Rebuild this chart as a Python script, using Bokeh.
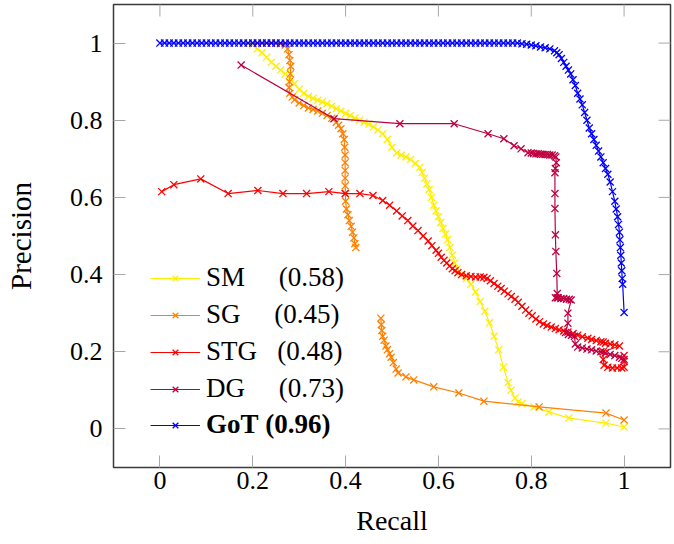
import math
from bokeh.plotting import figure
from bokeh.models import FixedTicker, Legend, LegendItem, Range1d
from bokeh.embed import file_html
from bokeh.resources import INLINE

nan = math.nan

# ---------------- data ----------------
x_ticks = [0, 0.2, 0.4, 0.6, 0.8, 1]
x_tick_labels = ["0", "0.2", "0.4", "0.6", "0.8", "1"]
y_ticks = [0, 0.2, 0.4, 0.6, 0.8, 1]
y_tick_labels = ["0", "0.2", "0.4", "0.6", "0.8", "1"]

series_names = ["SM", "SG", "STG", "DG", "GoT"]
series_scores = ["0.58", "0.45", "0.48", "0.73", "0.96"]

sm_recall = [0.18, 0.19, 0.20, 0.21, 0.22, 0.23, 0.24, 0.25, 0.26, 0.27, 0.28, 0.29, 0.30,
             0.31, 0.32, 0.33, 0.34, 0.35, 0.36, 0.37, 0.38, 0.39, 0.40, 0.41, 0.42, 0.43,
             0.44, 0.45, 0.46, 0.47, 0.48, 0.49, 0.50, 0.51, 0.52, 0.53, 0.54, 0.55, 0.56,
             0.565, 0.57, 0.575, 0.58, 0.585, 0.59, 0.595, 0.60, 0.605, 0.61, 0.615, 0.62,
             0.625, 0.63, 0.635, 0.64, 0.65, 0.66, 0.67, 0.68, 0.69, 0.70, 0.71, 0.72, 0.73,
             0.74, 0.75, 0.756, 0.765, 0.772, 0.78, 0.806, 0.838, 0.881, 0.961, 1.0]
sm_precision = [1.0, 1.0, 0.995, 0.985, 0.975, 0.963, 0.95, 0.94, 0.93, 0.92, 0.91, 0.895, 0.88,
                0.87, 0.862, 0.857, 0.852, 0.848, 0.843, 0.836, 0.83, 0.824, 0.818, 0.812, 0.806, 0.80,
                0.795, 0.79, 0.783, 0.775, 0.765, 0.75, 0.73, 0.715, 0.71, 0.705, 0.698, 0.688, 0.678,
                0.665, 0.65, 0.635, 0.62, 0.60, 0.58, 0.565, 0.55, 0.535, 0.52, 0.505, 0.49,
                0.47, 0.45, 0.43, 0.415, 0.40, 0.39, 0.375, 0.355, 0.33, 0.305, 0.275, 0.24, 0.205,
                0.16, 0.12, 0.10, 0.08, 0.07, 0.066, 0.057, 0.044, 0.028, 0.015, 0.005]

sg_recall = [0.20, 0.21, 0.22, 0.23, 0.24, 0.25, 0.26, 0.27, 0.275, 0.278, 0.28, 0.282, 0.281,
             0.279, 0.278, 0.28, 0.285, 0.29, 0.30, 0.31, 0.32, 0.33, 0.34, 0.35, 0.36, 0.37,
             0.38, 0.385, 0.39, 0.394, 0.397, 0.398, 0.399, 0.399, 0.399, 0.399, 0.399, 0.40,
             0.40, 0.402, 0.405, 0.408, 0.412, 0.415, 0.418, 0.42, 0.422,
             nan,
             0.476, 0.477, 0.478, 0.48, 0.483, 0.487, 0.49, 0.495, 0.498, 0.503, 0.509, 0.513,
             0.53, 0.547, 0.59, 0.644, 0.698, 0.817, 0.961, 1.0]
sg_precision = [1.0, 1.0, 1.0, 1.0, 1.0, 1.0, 0.998, 0.995, 0.985, 0.97, 0.955, 0.94, 0.92,
                0.90, 0.885, 0.87, 0.86, 0.853, 0.845, 0.838, 0.832, 0.828, 0.824, 0.818, 0.812, 0.805,
                0.795, 0.787, 0.778, 0.765, 0.75, 0.73, 0.71, 0.69, 0.67, 0.65, 0.63, 0.61,
                0.59, 0.57, 0.555, 0.54, 0.525, 0.51, 0.495, 0.48, 0.47,
                nan,
                0.287, 0.27, 0.255, 0.24, 0.23, 0.215, 0.205, 0.195, 0.186, 0.172, 0.155, 0.145,
                0.135, 0.127, 0.109, 0.093, 0.072, 0.057, 0.041, 0.023]

stg_recall = [0.004, 0.03, 0.088, 0.147, 0.211, 0.265, 0.316, 0.364, 0.399, 0.431, 0.459,
              0.48, 0.495, 0.51, 0.522, 0.534, 0.545, 0.556, 0.567, 0.578, 0.586, 0.595, 0.60,
              0.606, 0.612, 0.618, 0.624, 0.63, 0.636, 0.642, 0.65, 0.66, 0.67, 0.68, 0.69,
              0.698, 0.705, 0.712, 0.72, 0.728, 0.735, 0.742, 0.75, 0.757, 0.765, 0.772, 0.78,
              0.788, 0.795, 0.802, 0.81, 0.818, 0.826, 0.834, 0.843, 0.852, 0.86, 0.87, 0.879,
              0.89, 0.90, 0.91, 0.922, 0.93, 0.94, 0.95, 0.955, 0.96, 0.97, 0.98, 0.99,
              0.955, 0.955, 0.957, 0.965, 0.975, 0.985, 0.995, 1.0, 1.0, 1.0]
stg_precision = [0.615, 0.633, 0.648, 0.61, 0.618, 0.61, 0.61, 0.615, 0.61, 0.61, 0.605,
                 0.592, 0.58, 0.565, 0.552, 0.54, 0.526, 0.514, 0.50, 0.487, 0.475, 0.463, 0.455,
                 0.445, 0.437, 0.43, 0.422, 0.415, 0.41, 0.405, 0.40, 0.397, 0.395, 0.394, 0.394,
                 0.393, 0.39, 0.384, 0.377, 0.37, 0.364, 0.357, 0.35, 0.343, 0.336, 0.328, 0.318,
                 0.308, 0.30, 0.293, 0.285, 0.278, 0.272, 0.268, 0.264, 0.26, 0.257, 0.254, 0.251,
                 0.247, 0.243, 0.239, 0.235, 0.232, 0.229, 0.226, 0.225, 0.222, 0.22, 0.218, 0.215,
                 0.20, 0.18, 0.165, 0.16, 0.158, 0.158, 0.158, 0.16, 0.175, 0.19]

dg_recall = [0.175, 0.375, 0.517, 0.634, 0.707, 0.741, 0.763, 0.778, 0.793, 0.80, 0.805, 0.81,
             0.815, 0.82, 0.825, 0.83, 0.835, 0.84, 0.845, 0.85, 0.853, 0.854, 0.852, 0.851,
             0.851, 0.851, 0.852, 0.853, 0.855, 0.856, 0.856, 0.852, 0.858, 0.864, 0.87, 0.876,
             0.882, 0.886, 0.879, 0.879, 0.874, 0.88, 0.887, 0.893, 0.895, 0.90, 0.91, 0.92,
             0.93, 0.94, 0.95, 0.96, 0.97, 0.98, 0.99, 0.995, 1.0]
dg_precision = [0.943, 0.804, 0.791, 0.791, 0.765, 0.752, 0.734, 0.726, 0.716, 0.715, 0.714, 0.713,
                0.713, 0.712, 0.712, 0.711, 0.711, 0.71, 0.71, 0.708, 0.705, 0.69, 0.675, 0.664,
                0.61, 0.571, 0.503, 0.46, 0.403, 0.351, 0.34, 0.34, 0.34, 0.338, 0.338, 0.336,
                0.336, 0.334, 0.30, 0.274, 0.25, 0.245, 0.243, 0.24, 0.22, 0.212, 0.21, 0.207,
                0.205, 0.202, 0.20, 0.197, 0.193, 0.19, 0.186, 0.183, 0.18]

got_recall = [0.00, 0.01, 0.02, 0.03, 0.04, 0.05, 0.06, 0.07, 0.08, 0.09, 0.10, 0.11, 0.12,
              0.13, 0.14, 0.15, 0.16, 0.17, 0.18, 0.19, 0.20, 0.21, 0.22, 0.23, 0.24, 0.25,
              0.26, 0.27, 0.28, 0.29, 0.30, 0.31, 0.32, 0.33, 0.34, 0.35, 0.36, 0.37, 0.38,
              0.39, 0.40, 0.41, 0.42, 0.43, 0.44, 0.45, 0.46, 0.47, 0.48, 0.49, 0.50, 0.51,
              0.52, 0.53, 0.54, 0.55, 0.56, 0.57, 0.58, 0.59, 0.60, 0.61, 0.62, 0.63, 0.64,
              0.65, 0.66, 0.67, 0.68, 0.69, 0.70, 0.71, 0.72, 0.73, 0.74, 0.75, 0.76, 0.77,
              0.78, 0.79, 0.80, 0.81, 0.82, 0.83, 0.84, 0.85, 0.855, 0.86, 0.865, 0.87, 0.875,
              0.88, 0.885, 0.89, 0.895, 0.90, 0.905, 0.91, 0.915, 0.92, 0.925, 0.93, 0.935,
              0.94, 0.945, 0.95, 0.955, 0.96, 0.965, 0.97, 0.975, 0.98, 0.983, 0.986, 0.988,
              0.99, 0.991, 0.992, 0.993, 0.994, 0.995, 0.996, 0.997, 1.0]
got_precision = [1.0, 1.0, 1.0, 1.0, 1.0, 1.0, 1.0, 1.0, 1.0, 1.0, 1.0, 1.0, 1.0,
                 1.0, 1.0, 1.0, 1.0, 1.0, 1.0, 1.0, 1.0, 1.0, 1.0, 1.0, 1.0, 1.0,
                 1.0, 1.0, 1.0, 1.0, 1.0, 1.0, 1.0, 1.0, 1.0, 1.0, 1.0, 1.0, 1.0,
                 1.0, 1.0, 1.0, 1.0, 1.0, 1.0, 1.0, 1.0, 1.0, 1.0, 1.0, 1.0, 1.0,
                 1.0, 1.0, 1.0, 1.0, 1.0, 1.0, 1.0, 1.0, 1.0, 1.0, 1.0, 1.0, 1.0,
                 1.0, 1.0, 1.0, 1.0, 1.0, 1.0, 1.0, 1.0, 1.0, 1.0, 1.0, 1.0, 1.0,
                 0.998, 0.997, 0.995, 0.993, 0.99, 0.988, 0.985, 0.98, 0.975, 0.97, 0.96, 0.95, 0.94,
                 0.93, 0.92, 0.905, 0.89, 0.87, 0.855, 0.84, 0.82, 0.80, 0.78, 0.765, 0.75,
                 0.735, 0.72, 0.705, 0.69, 0.675, 0.66, 0.64, 0.615, 0.59, 0.57, 0.55, 0.53,
                 0.51, 0.49, 0.47, 0.45, 0.43, 0.41, 0.39, 0.375, 0.302]

colors = ["#FFEE00", "#FF8000", "#FF0000", "#BF0040", "#0000FF"]

# ---------------- figure ----------------
FONT = "Liberation Serif"

p = figure(width=674, height=544,
           x_range=Range1d(-0.1, 1.1), y_range=Range1d(-0.1, 1.1),
           output_backend="svg", toolbar_location=None,
           min_border_left=113, min_border_right=4, min_border_top=4, min_border_bottom=77,
           x_axis_label="Recall", y_axis_label="Precision")
p.background_fill_color = "white"
p.border_fill_color = "white"
p.grid.visible = False
p.outline_line_color = "#3a3a3a"
p.outline_line_width = 1.5

tick_color = "#a8a8a8"
for ax, ticks, labels in ((p.xaxis[0], x_ticks, x_tick_labels), (p.yaxis[0], y_ticks, y_tick_labels)):
    ax.ticker = FixedTicker(ticks=ticks)
    ax.major_label_overrides = {t: l for t, l in zip(ticks, labels)}
    ax.major_tick_in = 12
    ax.major_tick_out = 0
    ax.major_tick_line_color = tick_color
    ax.minor_tick_line_color = None
    ax.axis_line_color = None
    ax.major_label_text_font = FONT
    ax.major_label_text_font_size = "26px"
    ax.major_label_text_color = "black"
    ax.axis_label_text_font = FONT
    ax.axis_label_text_font_style = "normal"
    ax.axis_label_text_color = "black"

p.xaxis[0].axis_label_text_font_size = "28px"
p.yaxis[0].axis_label_text_font_size = "29px"
p.xaxis[0].major_label_standoff = 4
p.xaxis[0].axis_label_standoff = 13
p.yaxis[0].major_label_standoff = 11
p.yaxis[0].axis_label_standoff = 30

# mirrored tick marks on the top and right frame edges (half of each dash is clipped by the frame)
p.scatter(x_ticks, [p.y_range.end] * len(x_ticks), marker="dash", size=24, angle=math.pi / 2,
          line_color=tick_color, line_width=1)
p.scatter([p.x_range.end] * len(y_ticks), y_ticks, marker="dash", size=24,
          line_color=tick_color, line_width=1)

all_x = [sm_recall, sg_recall, stg_recall, dg_recall, got_recall]
all_y = [sm_precision, sg_precision, stg_precision, dg_precision, got_precision]

items = []
for name, score, xs, ys, c in zip(series_names, series_scores, all_x, all_y, colors):
    lr = p.line(xs, ys, line_color=c, line_width=1.2)
    sr = p.scatter(xs, ys, marker="x", size=10, line_color=c, line_width=1.3)
    items.append((name, score, lr, sr))

NB = "\u00a0"
pads = {"SM": 5, "SG": 5, "STG": 3, "DG": 5, "GoT": 1}
leg_items = []
for name, score, lr, sr in items[:4]:
    leg_items.append(LegendItem(label=name + NB * pads[name] + "(" + score + ")", renderers=[lr, sr]))
name, score, lr, sr = items[4]
got_item = LegendItem(label=name + NB * pads[name] + "(" + score + ")", renderers=[lr, sr])


def make_legend(its, loc, bold=False):
    lg = Legend(items=its, location=loc)
    lg.background_fill_alpha = 0
    lg.border_line_alpha = 0
    lg.padding = 0
    lg.margin = 0
    lg.spacing = 6
    lg.glyph_width = 50
    lg.glyph_height = 20
    lg.label_standoff = 6
    lg.label_height = 20
    lg.label_text_font = FONT
    lg.label_text_font_size = "27px"
    lg.label_text_color = "black"
    if bold:
        lg.label_text_font_style = "bold"
    return lg


p.add_layout(make_legend(leg_items, (37, 63)))
p.add_layout(make_legend([got_item], (37, 27), bold=True))

open("out.html", "w").write(file_html(p, INLINE))
